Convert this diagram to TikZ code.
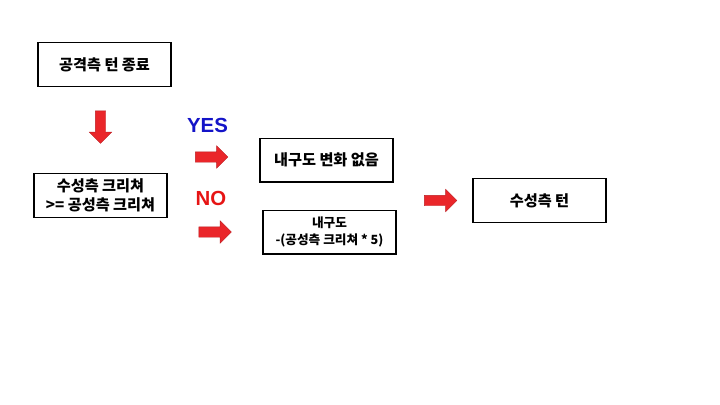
\documentclass[tikz,border=0pt]{standalone}
\usepackage{fontspec}
\newfontfamily\krfont{Noto Sans CJK KR}
\newfontfamily\lsfont{Liberation Sans}
\usetikzlibrary{shapes.arrows}
\definecolor{arrowred}{RGB}{234,38,42}
\definecolor{yesblue}{RGB}{20,20,200}
\definecolor{nored}{RGB}{230,20,20}

\begin{document}
\begin{tikzpicture}[
    x=0.025cm, y=-0.025cm,
    % Styles
    step box/.style={
        rectangle,
        draw=black,
        line width=1pt,
        fill=white,
        minimum width=3.325cm,
        minimum height=1.09cm,
        align=center,
        font=\krfont\bfseries\fontsize{10.8}{13.5}\selectfont
    },
    fat arrow/.style={
        single arrow,
        draw=arrowred!80!black,
        line width=0.3pt,
        fill=arrowred,
        inner xsep=0pt,
        inner ysep=0.125cm,
        minimum height=0.81cm,
        single arrow head extend=0.15cm,
        single arrow head indent=0pt,
        rotate=#1
    },
    fat arrow/.default=0,
    answer/.style={
        font=\lsfont\bfseries\fontsize{14.5}{16}\selectfont,
        text=#1
    }
]

\useasboundingbox (0,0) rectangle (720,404);

% Boxes
\node[step box] (attackend) at (104.5, 64.5) {공격측 턴 종료};
\node[step box] (compare) at (100.5, 195.5) {수성측 크리쳐\\>= 공성측 크리쳐};
\node[step box] (nochange) at (326.5, 160) {내구도 변화 없음};
\node[step box, font=\krfont\bfseries\fontsize{9}{12}\selectfont] (damage) at (329.5, 232) {내구도\\-(공성측 크리쳐 * 5)};
\node[step box] (defendturn) at (539.5, 200.5) {수성측 턴};

% Arrows
\node[fat arrow=-90] (downarrow) at (100.5, 124.5) {};
\node[fat arrow] (yesarrow) at (209, 157) {};
\node[fat arrow] (noarrow) at (212.5, 232) {};
\node[fat arrow] (nextarrow) at (438, 200.5) {};

% Answers
\node[answer=yesblue] (yes) at (207.5, 125) {YES};
\node[answer=nored] (no) at (211, 198) {NO};

\end{tikzpicture}
\end{document}
